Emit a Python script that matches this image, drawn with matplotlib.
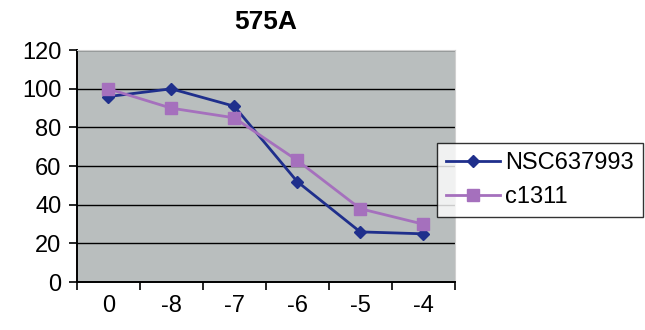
import matplotlib
matplotlib.use('Agg')
import matplotlib.pyplot as plt
import numpy as np

plt.rcParams['font.family'] = ['Liberation Sans', 'DejaVu Sans']

categories = ['0', '-8', '-7', '-6', '-5', '-4']
nsc = [96, 100, 91, 52, 26, 25]
c1311 = [100, 90, 85, 63, 38, 30]

fig = plt.figure(figsize=(6.45, 3.3), dpi=100)
ax = fig.add_axes([0.119, 0.145, 0.586, 0.703])
ax.set_facecolor('#b9bebe')

x = np.arange(len(categories))
ax.plot(x, nsc, color='#1f2f8c', lw=2, marker='D', ms=6, label='NSC637993', zorder=3)
ax.plot(x, c1311, color='#a570bd', lw=2, marker='s', ms=9, label='c1311', zorder=3)

ax.set_xlim(-0.5, 5.5)
ax.set_ylim(0, 120)
ax.set_yticks(range(0, 121, 20))
ax.yaxis.grid(True, color='black', lw=1)
ax.set_axisbelow(True)

ax.set_xticks(x)
ax.set_xticklabels(categories)
ax.set_xticks(np.arange(-0.5, 6, 1), minor=True)
ax.tick_params(axis='x', which='major', length=0, pad=9, labelsize=17)
ax.tick_params(axis='x', which='minor', length=6, width=1.2, direction='out')
ax.tick_params(axis='y', length=6, width=1.2, direction='out', labelsize=17, pad=5)

ax.spines['left'].set_linewidth(1.4)
ax.spines['bottom'].set_linewidth(1.4)
ax.spines['top'].set_color('#d0d0d0')
ax.spines['right'].set_color('#d0d0d0')

ax.set_title('575A', fontsize=19, fontweight='bold', pad=15)

leg = ax.legend(loc='center left', bbox_to_anchor=(0.952, 0.44), fontsize=17,
                frameon=True, fancybox=False, handlelength=2.3, borderpad=0.4,
                labelspacing=0.5, handletextpad=0.2, borderaxespad=0)
leg.get_frame().set_edgecolor('black')
leg.get_frame().set_linewidth(1)

fig.savefig('out.png', dpi=100)
